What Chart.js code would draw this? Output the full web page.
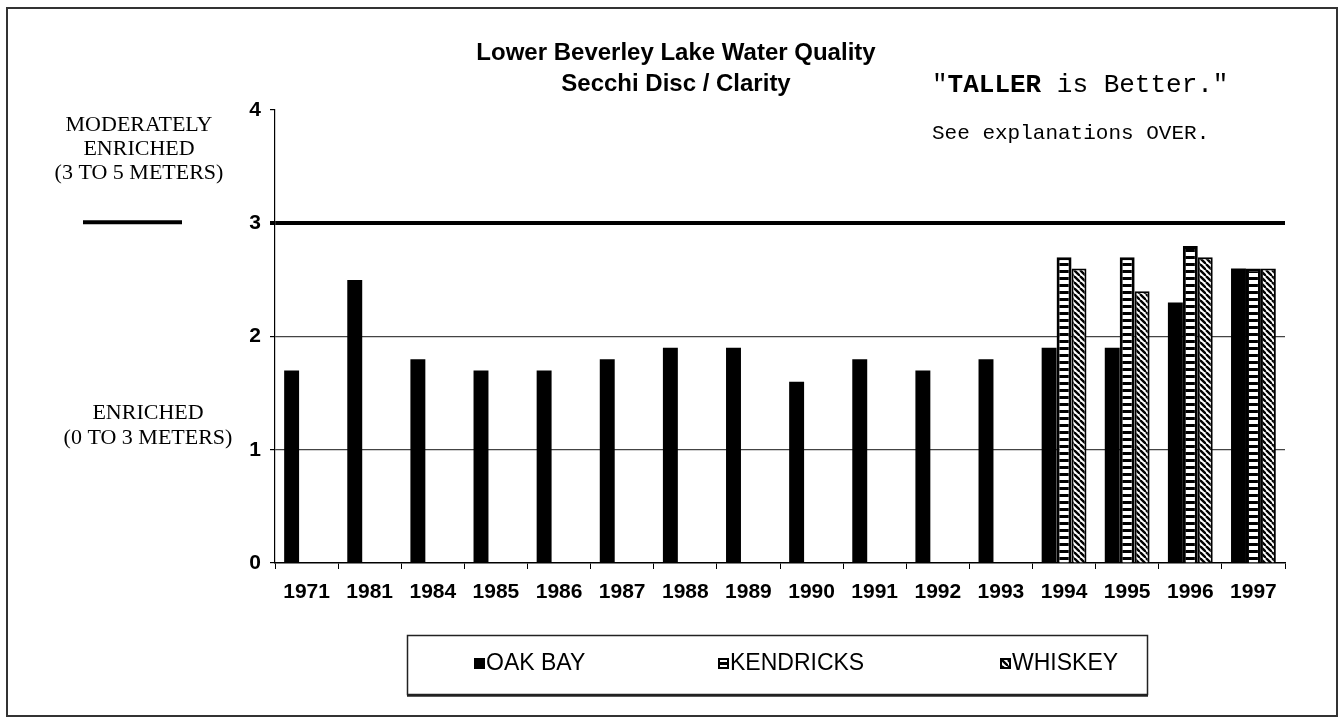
<!DOCTYPE html>
<html>
<head>
<meta charset="utf-8">
<script src="https://cdn.jsdelivr.net/npm/chart.js@4.4.1/dist/chart.umd.min.js"></script>
<style>
  html, body { margin: 0; padding: 0; background: #fff; }
</style>
</head>
<body>
<canvas id="secchiChart" width="1341" height="721"></canvas>
<script>
const years = ["1971", "1981", "1984", "1985", "1986", "1987", "1988", "1989",
               "1990", "1991", "1992", "1993", "1994", "1995", "1996", "1997"];
const oakBay    = [1.7, 2.5, 1.8, 1.7, 1.7, 1.8, 1.9, 1.9, 1.6, 1.8, 1.7, 1.8, 1.9, 1.9, 2.3, 2.6];
const kendricks = [null, null, null, null, null, null, null, null, null, null, null, null, 2.7, 2.7, 2.8, 2.6];
const whiskey   = [null, null, null, null, null, null, null, null, null, null, null, null, 2.6, 2.4, 2.7, 2.6];
const yTicks = [0, 1, 2, 3, 4];

const titleLines = ["Lower Beverley Lake Water Quality", "Secchi Disc / Clarity"];
const upperZone = ["MODERATELY", "ENRICHED", "(3 TO 5 METERS)"];
const lowerZone = ["ENRICHED", "(0 TO 3 METERS)"];

const SANS = '"Liberation Sans", Arial, sans-serif';
const SERIF = '"Liberation Serif", "Times New Roman", serif';
const MONO = '"Liberation Mono", "Courier New", monospace';

// white cells with black rungs (KENDRICKS)
function ladderPattern() {
  const c = document.createElement('canvas');
  c.width = 8; c.height = 7;
  const g = c.getContext('2d');
  g.fillStyle = '#fff'; g.fillRect(0, 0, 8, 7);
  g.fillStyle = '#000'; g.fillRect(0, 4, 8, 3);
  return g.createPattern(c, 'repeat');
}

// diagonal "\" hatch (WHISKEY)
function hatchPattern() {
  const s = 6;
  const c = document.createElement('canvas');
  c.width = s; c.height = s;
  const g = c.getContext('2d');
  g.fillStyle = '#fff'; g.fillRect(0, 0, s, s);
  g.strokeStyle = '#000'; g.lineWidth = 2.4;
  for (const o of [-s, 0, s]) {
    g.beginPath(); g.moveTo(o, 0); g.lineTo(o + s, s); g.stroke();
  }
  return g.createPattern(c, 'repeat');
}

const pageDecor = {
  id: 'pageDecor',
  beforeDraw(chart) {
    const { ctx, width, height } = chart;
    ctx.save();
    ctx.fillStyle = '#fff';
    ctx.fillRect(0, 0, width, height);
    ctx.strokeStyle = '#333';
    ctx.lineWidth = 2;
    ctx.strokeRect(7, 8, 1330, 708);
    ctx.restore();
  },
  afterDraw(chart) {
    const { ctx } = chart;
    const y = chart.scales.y;
    ctx.save();
    ctx.fillStyle = '#000';
    ctx.textBaseline = 'middle';
    ctx.textAlign = 'center';

    // title
    ctx.font = 'bold 24px ' + SANS;
    titleLines.forEach((t, i) => ctx.fillText(t, 676, 53 + i * 31));

    // zone labels on the left
    ctx.font = '22px ' + SERIF;
    upperZone.forEach((t, i) => ctx.fillText(t, 139, 125 + i * 24));
    lowerZone.forEach((t, i) => ctx.fillText(t, 148, 413 + i * 25));

    const y3 = y.getPixelForValue(3);
    ctx.strokeStyle = '#000';
    ctx.lineWidth = 4;
    ctx.beginPath();
    ctx.moveTo(83, y3 - 1);
    ctx.lineTo(182, y3 - 1);
    ctx.stroke();

    // notes on the right
    ctx.textAlign = 'left';
    let x = 932;
    const parts = [['"', ''], ['TALLER', 'bold '], [' is Better."', '']];
    parts.forEach(([t, w]) => {
      ctx.font = w + '26px ' + MONO;
      ctx.fillText(t, x, 85);
      x += ctx.measureText(t).width;
    });
    ctx.font = '21px ' + MONO;
    ctx.fillText('See explanations OVER.', 932, 133);

    // legend box
    ctx.lineWidth = 1.5;
    ctx.strokeStyle = '#222';
    ctx.strokeRect(407.5, 635.5, 740, 59);
    ctx.lineWidth = 2.5;
    ctx.beginPath(); ctx.moveTo(407, 695.5); ctx.lineTo(1148, 695.5); ctx.stroke();

    const legendX = [474, 718, 1000];
    ctx.font = '23px ' + SANS;
    chart.data.datasets.forEach((ds, i) => {
      const lx = legendX[i];
      ctx.fillStyle = ds.backgroundColor;
      ctx.fillRect(lx, 658, 11, 11);
      ctx.lineWidth = 2;
      ctx.strokeStyle = '#000';
      ctx.strokeRect(lx + 1, 659, 9, 9);
      ctx.fillStyle = '#000';
      ctx.fillText(ds.label, lx + 12, 664);
    });
    ctx.restore();
  }
};

const ctx = document.getElementById('secchiChart').getContext('2d');
new Chart(ctx, {
  type: 'bar',
  data: {
    labels: years,
    datasets: [
      { label: 'OAK BAY', data: oakBay, backgroundColor: '#000', borderWidth: 0 },
      { label: 'KENDRICKS', data: kendricks, backgroundColor: ladderPattern(), borderColor: '#000', borderWidth: 3 },
      { label: 'WHISKEY', data: whiskey, backgroundColor: hatchPattern(), borderColor: '#000', borderWidth: 2 }
    ]
  },
  options: {
    responsive: false,
    animation: false,
    categoryPercentage: 0.71,
    barPercentage: 1.0,
    layout: { padding: { left: 0, right: 56, top: 110, bottom: 117 } },
    plugins: {
      legend: { display: false },
      title: { display: false },
      tooltip: { enabled: false }
    },
    scales: {
      x: {
        afterFit: s => { s.height = 41; },
        border: { color: '#000', width: 1.5 },
        grid: { drawOnChartArea: false, tickLength: 6, color: '#000', lineWidth: 1 },
        ticks: { color: '#000', padding: 11, font: { family: SANS, size: 21, weight: 'bold' } }
      },
      y: {
        min: 0,
        max: 4,
        afterFit: s => { s.width = 275; },
        afterBuildTicks: s => { s.ticks = yTicks.map(v => ({ value: v })); },
        border: { color: '#000', width: 1.2 },
        grid: {
          tickLength: 5,
          color: c => (c.tick.value === 3 ? '#000' : (c.tick.value === 0 || c.tick.value === 4 ? 'rgba(0,0,0,0)' : '#444')),
          lineWidth: c => (c.tick.value === 3 ? 4 : 1.2),
          tickColor: '#000',
          tickWidth: c => (c.tick.value === 3 ? 4 : 1.2)
        },
        ticks: { color: '#000', padding: 9, font: { family: SANS, size: 21, weight: 'bold' } }
      }
    }
  },
  plugins: [pageDecor]
});
</script>
</body>
</html>
